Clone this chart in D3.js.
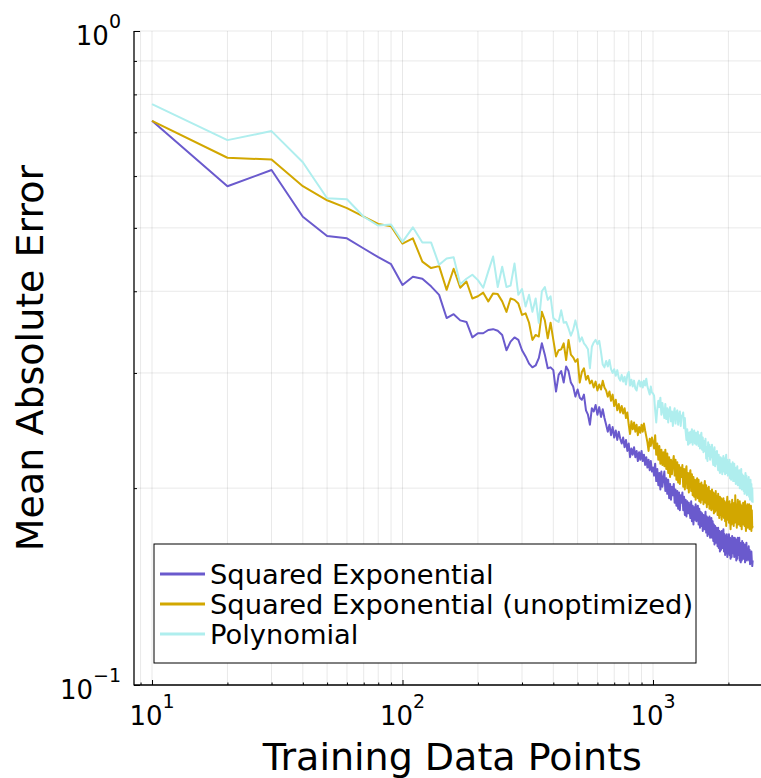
<!DOCTYPE html>
<html>
<head>
<meta charset="utf-8">
<script src="https://cdn.jsdelivr.net/npm/d3@7"></script>
<style>
  html, body { margin: 0; padding: 0; background: #ffffff; }
  svg { display: block; }
  text { font-family: "DejaVu Sans", sans-serif; fill: #000; }
</style>
</head>
<body>
<svg id="chart" width="761" height="778"></svg>
<script>
// ---------------- data ----------------
const trainingPoints = d3.range(10, 2501, 10);

const seriesNames = ["Squared Exponential", "Squared Exponential (unoptimized)", "Polynomial"];
const seriesColors = ["#6a5acd", "#d2a700", "#afeeee"];

const seValues = [
0.729,0.579,0.613,0.520,0.486,0.482,0.465,0.451,0.440,0.409,
0.421,0.418,0.407,0.395,0.364,0.369,0.361,0.359,0.340,0.345,
0.345,0.349,0.350,0.348,0.343,0.325,0.335,0.340,0.337,0.325,
0.318,0.310,0.306,0.308,0.316,0.333,0.320,0.305,0.306,0.303,
0.281,0.298,0.302,0.290,0.307,0.302,
0.290,0.286,0.276,0.283,0.275,0.273,0.278,0.263,0.259,0.250,
0.265,0.262,0.268,0.259,0.266,0.257,0.264,0.256,0.250,0.244,
0.250,0.241,0.248,0.239,0.245,0.237,0.244,0.238,0.234,0.239,
0.231,0.237,0.228,0.234,0.223,0.230,0.225,0.231,0.223,0.228,
0.220,0.227,0.221,0.228,0.220,0.225,0.217,0.223,0.215,0.221,
0.213,0.220,0.212,0.215,
0.209,0.218,0.205,0.214,0.202,0.211,0.199,0.212,0.201,0.207,
0.212,0.198,0.207,0.196,0.206,0.193,0.203,0.192,0.201,0.195,
0.203,0.190,0.199,0.188,0.198,0.186,0.197,0.185,0.195,0.190,
0.197,0.185,0.194,0.182,0.192,0.181,0.191,0.183,0.190,0.184,
0.180,0.191,0.178,0.188,0.176,0.187,0.179,0.189,0.178,0.185,
0.188,0.176,0.186,0.174,0.184,0.175,0.183,0.172,0.182,0.178,
0.173,0.184,0.171,0.181,0.169,0.180,0.170,0.181,0.168,0.177,
0.180,0.168,0.178,0.166,0.176,0.164,0.175,0.165,0.174,0.170,
0.163,0.174,0.162,0.172,0.160,0.171,0.161,0.172,0.162,0.168,
0.173,0.160,0.170,0.158,0.169,0.159,0.170,0.157,0.167,0.164,
0.170,0.158,0.168,0.156,0.167,0.157,0.169,0.159,0.168,0.162,
0.157,0.168,0.158,0.167,0.155,0.166,0.156,0.168,0.158,0.164,
0.168,0.155,0.165,0.154,0.164,0.155,0.166,0.156,0.165,0.159,
0.156,0.164,0.154,0.162,0.157,0.165,0.155,0.161,0.156,0.160,
0.163,0.155,0.161,0.153,0.159,0.154,0.160,0.155,0.152,0.155
];

const seUnoptValues = [
0.729,0.640,0.636,0.579,0.551,0.536,0.520,0.507,0.503,0.473,
0.482,0.444,0.434,0.437,0.402,0.433,0.405,0.414,0.390,0.393,
0.398,0.386,0.397,0.396,0.386,0.372,0.390,0.388,0.383,0.368,
0.370,0.358,0.337,0.343,0.341,0.372,0.361,0.339,0.358,0.337,
0.318,0.325,0.326,0.333,0.314,0.337,
0.320,0.317,0.312,0.315,0.290,0.301,0.305,0.293,0.297,0.289,
0.292,0.285,0.291,0.282,0.288,0.283,0.292,0.285,0.282,0.276,
0.281,0.272,0.278,0.267,0.273,0.263,0.269,0.261,0.267,0.260,
0.265,0.256,0.261,0.250,0.242,0.253,0.246,0.252,0.244,0.250,
0.241,0.248,0.243,0.250,0.244,0.251,0.245,0.240,0.235,0.228,
0.238,0.232,0.239,0.235,
0.230,0.241,0.225,0.234,0.221,0.232,0.218,0.229,0.217,0.227,
0.216,0.229,0.214,0.226,0.211,0.223,0.208,0.221,0.210,0.219,
0.224,0.209,0.221,0.206,0.219,0.204,0.217,0.203,0.215,0.208,
0.217,0.201,0.214,0.199,0.212,0.216,0.200,0.211,0.197,0.209,
0.213,0.198,0.210,0.195,0.208,0.194,0.206,0.192,0.204,0.207,
0.193,0.206,0.191,0.203,0.190,0.204,0.192,0.202,0.189,0.200,
0.205,0.190,0.202,0.187,0.200,0.189,0.201,0.186,0.198,0.190,
0.185,0.199,0.186,0.197,0.183,0.196,0.184,0.198,0.185,0.194,
0.182,0.196,0.184,0.180,0.194,0.182,0.193,0.179,0.192,0.181,
0.193,0.180,0.191,0.178,0.190,0.175,0.189,0.194,0.179,0.190,
0.177,0.191,0.179,0.173,0.189,0.176,0.192,0.178,0.188,0.175,
0.190,0.177,0.195,0.179,0.189,0.174,0.187,0.192,0.176,0.188,
0.178,0.191,0.175,0.189,0.180,0.173,0.188,0.177,0.190,0.176,
0.187,0.175,0.191,0.178,0.172,0.188,0.176,0.189,0.174,0.186,
0.176,0.189,0.173,0.186,0.175,0.188,0.172,0.185,0.174,0.175
];

const polyValues = [
0.773,0.681,0.703,0.630,0.555,0.553,0.520,0.504,0.506,0.476,
0.501,0.475,0.475,0.439,0.449,0.451,0.410,0.418,0.424,0.416,
0.405,0.429,0.452,0.406,0.436,0.406,0.408,0.441,0.395,0.403,
0.379,0.395,0.372,0.390,0.358,0.400,0.406,0.388,0.393,0.364,
0.361,0.359,0.374,0.358,0.359,0.351,
0.342,0.349,0.361,0.349,0.335,0.340,0.333,0.330,0.326,0.305,
0.329,0.334,0.337,0.332,0.336,0.323,0.309,0.306,0.313,0.307,
0.314,0.304,0.300,0.304,0.297,0.303,0.295,0.292,0.298,0.291,
0.296,0.288,0.298,0.301,0.287,0.293,0.286,0.292,0.284,0.282,
0.289,0.292,0.286,0.291,0.285,0.292,0.287,0.294,0.286,0.282,
0.278,0.286,0.280,0.279,
0.277,0.263,0.252,0.264,0.272,0.266,0.275,0.259,0.270,0.262,
0.256,0.269,0.255,0.265,0.252,0.263,0.266,0.253,0.262,0.249,
0.260,0.265,0.251,0.261,0.263,0.250,0.259,0.262,0.249,0.258,
0.258,0.261,0.247,0.256,0.244,0.237,0.246,0.233,0.243,0.234,
0.244,0.235,0.246,0.233,0.243,0.245,0.234,0.243,0.233,0.242,
0.244,0.232,0.241,0.230,0.240,0.243,0.229,0.239,0.227,0.236,
0.228,0.238,0.222,0.231,0.220,0.235,0.224,0.233,0.221,0.231,
0.223,0.233,0.221,0.217,0.228,0.231,0.216,0.227,0.218,0.228,
0.217,0.213,0.225,0.215,0.211,0.223,0.212,0.222,0.210,0.220,
0.224,0.212,0.222,0.210,0.220,0.225,0.211,0.221,0.209,0.219,
0.210,0.221,0.207,0.218,0.206,0.217,0.208,0.219,0.205,0.215,
0.218,0.205,0.215,0.203,0.214,0.204,0.216,0.202,0.212,0.203,
0.213,0.200,0.211,0.201,0.214,0.199,0.210,0.200,0.209,0.198,
0.208,0.196,0.207,0.211,0.197,0.209,0.195,0.206,0.196,0.205,
0.208,0.194,0.204,0.192,0.206,0.195,0.203,0.191,0.200,0.190
];

const xTickExponents = [1, 2, 3];
const yTickExponents = [-1, 0];
const xMinorTicks = [9, 20, 30, 40, 50, 60, 70, 80, 90, 200, 300, 400, 500, 600, 700, 800, 900, 2000];
const yMinorTicks = [0.2, 0.3, 0.4, 0.5, 0.6, 0.7, 0.8, 0.9];
const xTitle = "Training Data Points";
const yTitle = "Mean Absolute Error";

// ---------------- drawing ----------------
const svg = d3.select("#chart");
const W = 761, H = 778;
const plot = { left: 134, top: 31, bottom: 685, right: 770.7 };

const x = d3.scaleLog().domain([Math.pow(10, 0.92806), Math.pow(10, 3.46984)]).range([plot.left, plot.right]);
const y = d3.scaleLog().domain([0.1, 1]).range([plot.bottom, plot.top]);

svg.append("rect").attr("width", W).attr("height", H).attr("fill", "#fff");

// grid
const gridX = xMinorTicks.concat(xTickExponents.map(e => Math.pow(10, e)));
const gridY = yMinorTicks.concat(yTickExponents.map(e => Math.pow(10, e)));
const grid = svg.append("g").attr("class", "grid");
grid.selectAll("line.gx").data(gridX).join("line")
  .attr("x1", d => x(d)).attr("x2", d => x(d))
  .attr("y1", plot.top).attr("y2", plot.bottom)
  .attr("stroke", "#000").attr("stroke-opacity", 0.09).attr("stroke-width", 1);
grid.selectAll("line.gy").data(gridY).join("line")
  .attr("x1", plot.left).attr("x2", W)
  .attr("y1", d => y(d)).attr("y2", d => y(d))
  .attr("stroke", "#000").attr("stroke-opacity", 0.09).attr("stroke-width", 1);

// series
const seriesData = [seValues, seUnoptValues, polyValues];
const line = d3.line().x((d, i) => x(trainingPoints[i])).y(d => y(d));
seriesData.forEach((vals, k) => {
  svg.append("path").datum(vals)
    .attr("d", line)
    .attr("fill", "none")
    .attr("stroke", seriesColors[k])
    .attr("stroke-width", 2)
    .attr("stroke-linejoin", "round");
});

// axes (ticks inside)
function styleAxis(g) {
  g.select(".domain").remove();
  g.selectAll(".tick line").attr("stroke", "#000").attr("stroke-width", 1);
  g.selectAll(".tick text").remove();
}
svg.append("g").attr("transform", `translate(0,${plot.bottom})`)
  .call(d3.axisBottom(x).tickValues(xTickExponents.map(e => Math.pow(10, e))).tickSize(-5).tickFormat(""))
  .call(styleAxis);
svg.append("g").attr("transform", `translate(0,${plot.bottom})`)
  .call(d3.axisBottom(x).tickValues(xMinorTicks).tickSize(-2.5).tickFormat(""))
  .call(styleAxis);
svg.append("g").attr("transform", `translate(${plot.left},0)`)
  .call(d3.axisLeft(y).tickValues(yTickExponents.map(e => Math.pow(10, e))).tickSize(-6).tickFormat(""))
  .call(styleAxis);
svg.append("g").attr("transform", `translate(${plot.left},0)`)
  .call(d3.axisLeft(y).tickValues(yMinorTicks).tickSize(-3).tickFormat(""))
  .call(styleAxis);

// spines
svg.append("line").attr("x1", plot.left).attr("x2", plot.left).attr("y1", plot.top).attr("y2", plot.bottom + 0.5)
  .attr("stroke", "#000").attr("stroke-width", 1.3);
svg.append("line").attr("x1", plot.left).attr("x2", W).attr("y1", plot.bottom).attr("y2", plot.bottom)
  .attr("stroke", "#000").attr("stroke-width", 1.3);

// tick labels
function expLabel(g, base, exp) {
  g.append("tspan").text(base).attr("font-size", 26);
  g.append("tspan").text(exp < 0 ? "\u2212" + Math.abs(exp) : String(exp))
    .attr("font-size", 19).attr("dy", -17);
}
xTickExponents.forEach(e => {
  const t = svg.append("text").attr("x", x(Math.pow(10, e))).attr("y", 725)
    .attr("text-anchor", "middle");
  expLabel(t, "10", e);
});
yTickExponents.forEach(e => {
  const t = svg.append("text").attr("x", 121).attr("y", y(Math.pow(10, e)) + 14)
    .attr("text-anchor", "end");
  expLabel(t, "10", e);
});

// axis titles
svg.append("text").attr("x", (plot.left + plot.right) / 2).attr("y", 770)
  .attr("text-anchor", "middle").attr("font-size", 38).text(xTitle);
svg.append("text").attr("transform", `translate(43,${(plot.top + plot.bottom) / 2}) rotate(-90)`)
  .attr("text-anchor", "middle").attr("font-size", 38).text(yTitle);

// legend
const lg = svg.append("g");
lg.append("rect").attr("x", 154).attr("y", 544).attr("width", 542).attr("height", 119)
  .attr("fill", "#fff").attr("stroke", "#000").attr("stroke-width", 1);
const rowY = [574, 604, 634];
seriesNames.forEach((name, k) => {
  lg.append("line").attr("x1", 160).attr("x2", 205).attr("y1", rowY[k]).attr("y2", rowY[k])
    .attr("stroke", seriesColors[k]).attr("stroke-width", 3);
  lg.append("text").attr("x", 210).attr("y", rowY[k]).attr("dy", "0.35em")
    .attr("font-size", 27.3).text(name);
});
</script>
</body>
</html>
